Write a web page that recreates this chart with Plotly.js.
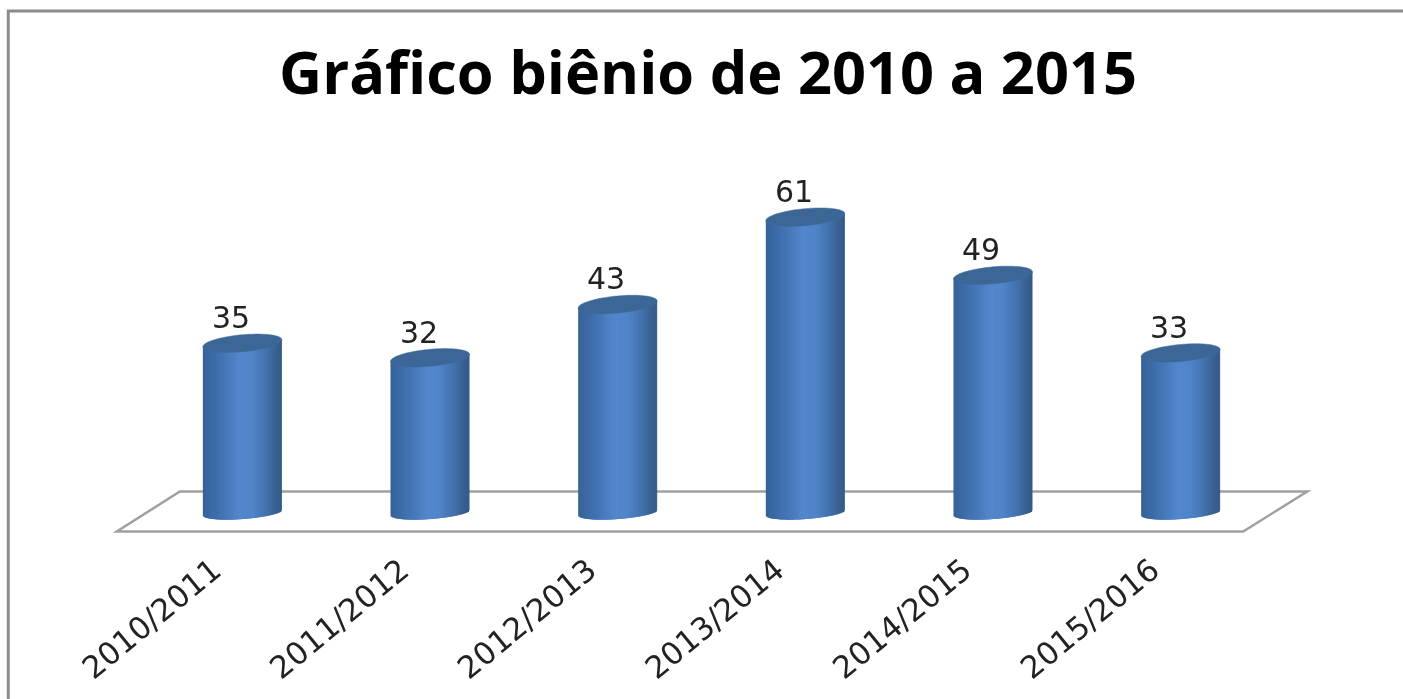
<!DOCTYPE html>
<html>
<head>
<meta charset="utf-8">
<script src="https://cdn.plot.ly/plotly-3.0.1.min.js"></script>
<style>html,body{margin:0;padding:0;background:#fff}#c{width:1403px;height:699px;filter:blur(0.7px)}</style>
</head>
<body>
<div id="c"></div>
<script>
const titleText = 'Gráfico bi\u00eanio de 2010 a 2015';
const categories = ['2010/2011','2011/2012','2012/2013','2013/2014','2014/2015','2015/2016'];
const values = [35,32,43,61,49,33];

const W = 1403, H = 699;
const plot = {l:111.2, r:1311.8, t:150, b:545};
const xRange = [-0.7,5.7];
const pxPerCat = (plot.r-plot.l)/(xRange[1]-xRange[0]);
const pxPerVal = 4.85;
const yRange = [-(plot.b-512.5)/pxPerVal, (512.5-plot.t)/pxPerVal];
const idx = categories.map((_,i)=>i);

const barPx = 79, strips = 79;
const stops = [[0,[54,98,152]],[0.2,[64,112,175]],[0.47,[83,135,205]],[0.62,[80,133,201]],[0.8,[66,114,174]],[0.93,[56,96,143]],[1,[52,90,136]]];
function shade(t){
  for(let k=1;k<stops.length;k++){
    if(t<=stops[k][0]){
      const a=stops[k-1],b=stops[k],f=(t-a[0])/(b[0]-a[0]);
      return 'rgb('+a[1].map((c,j)=>Math.round(c+(b[1][j]-c)*f)).join(',')+')';
    }
  }
  return 'rgb(52,90,136)';
}
const sw = barPx/strips/pxPerCat, tot = barPx/pxPerCat;
const topTilt = 3.5, topRy = 8.5, topDrop = 0.5, botTilt = 3, botRy = 6.5;
const traces = [];
for(let s=0;s<strips;s++){
  const t=(s+0.5)/strips, c=2*t-1;
  const lower = (botTilt*c - botRy*Math.sqrt(1-c*c))/pxPerVal;
  const upper = (topTilt*c-topDrop)/pxPerVal;
  traces.push({
    type:'bar', x:idx,
    y:values.map(v=>v+upper-lower),
    base:values.map(()=>lower),
    width:s>=strips-2?sw:sw*2.5,
    offset:-tot/2+s*sw,
    marker:{color:shade(t),line:{width:0}},
    hoverinfo:'skip', showlegend:false
  });
}

function topEllipse(i,v){
  const pts=[];
  for(let a=0;a<72;a++){
    const th=a/72*2*Math.PI, c=Math.cos(th), sn=Math.sin(th);
    const x=i+c*barPx/2/pxPerCat;
    const y=v+(topTilt*c-topRy*sn-topDrop)/pxPerVal;
    pts.push((a?'L':'M')+x.toFixed(4)+' '+y.toFixed(3));
  }
  return pts.join(' ')+' Z';
}
const px2x=p=>(p-242.5)/pxPerCat, px2y=p=>(512.5-p)/pxPerVal;
const floorPts=[[117,531.5],[1243,531.5],[1307,491.5],[180,491.5]];
const floorPath=floorPts.map((p,k)=>(k?'L':'M')+px2x(p[0])+' '+px2y(p[1])).join(' ')+' Z';
const pw=plot.r-plot.l, ph=plot.b-plot.t;
const fx=p=>(p-plot.l)/pw, fy=p=>(plot.b-p)/ph;

const shapes=[
  {type:'path',xref:'x',yref:'y',path:floorPath,layer:'below',line:{color:'#a0a0a0',width:2.5},fillcolor:'#ffffff'},
  {type:'path',xref:'paper',yref:'paper',
   path:'M'+fx(8.5)+' '+fy(699)+' L'+fx(8.5)+' '+fy(11)+' L'+fx(1403)+' '+fy(11),
   line:{color:'#8c8c8c',width:3},layer:'above'}
];
values.forEach((v,i)=>shapes.push({type:'path',xref:'x',yref:'y',path:topEllipse(i,v),
  fillcolor:'#3c6696',line:{color:'#3f6b9f',width:0.5},layer:'above'}));

const annotations=values.map((v,i)=>({x:i,y:v,xref:'x',yref:'y',text:String(v),showarrow:false,
  xshift:-11.5,yshift:25,xanchor:'center',yanchor:'middle',font:{family:'DejaVu Sans',size:30,color:'#222222'}}));

const layout={
  width:W,height:H,autosize:false,showlegend:false,barmode:'overlay',
  paper_bgcolor:'#ffffff',plot_bgcolor:'rgba(0,0,0,0)',
  margin:{l:plot.l,r:W-plot.r,t:plot.t,b:H-plot.b,pad:0},
  title:{text:titleText,x:708/W,xanchor:'center',y:1-73/H,yanchor:'middle',
    font:{family:'Open Sans',size:59.5,color:'#000000',weight:700}},
  xaxis:{range:xRange,tickmode:'array',tickvals:idx,ticktext:categories,tickangle:-39.5,
    ticks:'',showgrid:false,zeroline:false,showline:false,ticklabelshift:-29,ticklabelstandoff:0,
    automargin:false,tickfont:{family:'DejaVu Sans',size:31,color:'#222222'}},
  yaxis:{range:yRange,visible:false,automargin:false},
  shapes,annotations
};
Plotly.newPlot('c',traces,layout,{displayModeBar:false,staticPlot:true});
</script>
</body>
</html>
